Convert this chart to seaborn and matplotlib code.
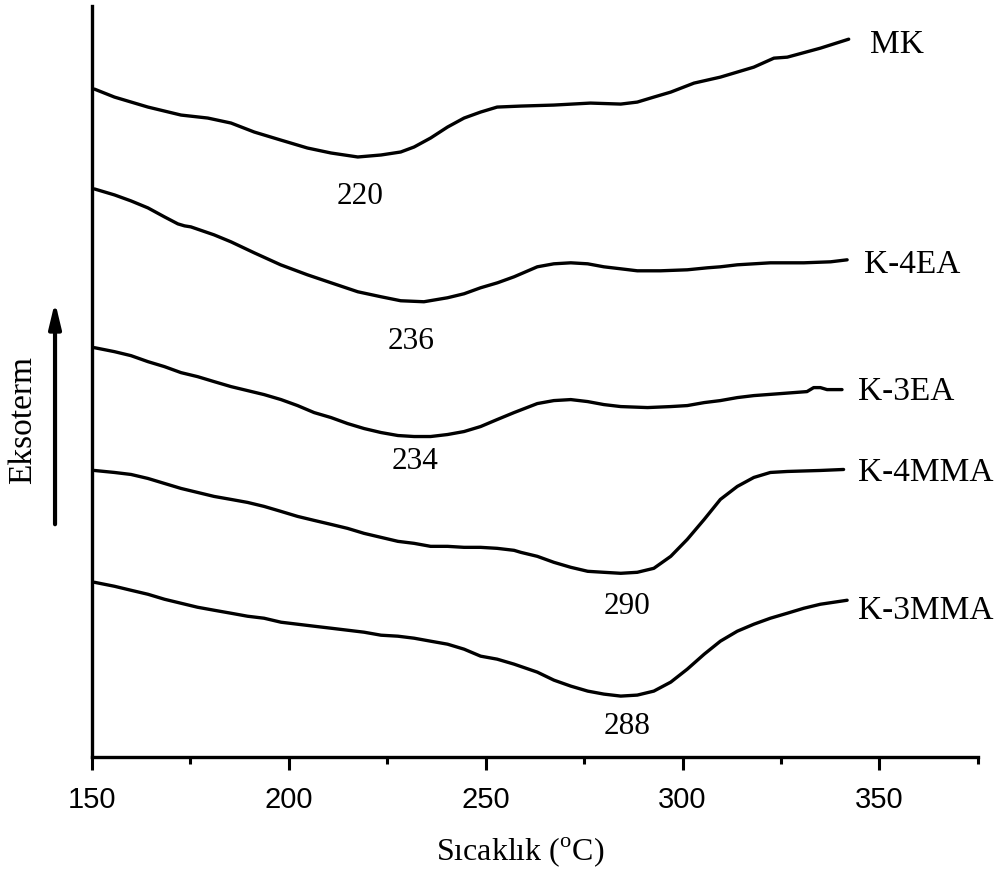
import pandas as pd
import matplotlib.pyplot as plt
import seaborn as sns

# === DSC curves (x: temperature in C, y: relative heat flow, arbitrary units) ===
mk_x = [150.6, 155.7, 164.2, 172.6, 179.4, 185.3, 191.2, 197.9, 204.7, 210.7, 217.5, 223.4,
        228.4, 231.8, 236.0, 240.3, 244.5, 248.7, 252.9, 258.9, 267.3, 276.6, 284.3, 288.5,
        292.7, 297.0, 302.9, 309.6, 318.1, 321.5, 323.2, 326.6, 335.0, 342.2]
mk_y = [669, 661, 651, 643, 640, 635, 626, 618, 610, 605, 601, 603,
        606, 611, 620, 631, 640, 646, 651, 652, 653, 655, 654, 656,
        661, 666, 675, 681, 691, 697, 700, 701, 710, 719]

k4ea_x = [150.6, 155.7, 159.9, 164.2, 168.4, 171.8, 173.5, 175.1, 181.0, 185.3, 191.2, 197.9,
          204.7, 210.7, 217.5, 223.4, 228.4, 234.3, 240.3, 244.5, 248.7, 253.0, 257.2,
          263.1, 267.3, 271.6, 275.9, 280.0, 284.3, 288.5, 294.4, 301.2, 306.3, 309.6,
          313.9, 322.3, 330.8, 337.6, 341.8]
k4ea_y = [569, 563, 557, 550, 541, 534, 532, 531, 523, 516, 505, 493,
          483, 475, 466, 461, 457, 456, 460, 464, 470, 475, 481,
          491, 494, 495, 494, 491, 489, 487, 487, 488, 490, 491,
          493, 495, 495, 496, 498]

k3ea_x = [150.6, 155.7, 159.9, 164.2, 168.4, 172.6, 176.8, 181.0, 185.3, 189.5, 193.7, 198.0,
          202.2, 206.4, 210.7, 214.9, 219.1, 223.4, 227.7, 231.8, 236.0, 240.3, 244.5, 248.7,
          252.9, 257.2, 263.1, 267.3, 271.6, 275.9, 280.0, 284.3, 291.1, 297.0, 301.2, 305.5,
          309.6, 313.9, 318.1, 324.9, 331.6, 333.3, 335.0, 336.7, 340.5]
k3ea_y = [410, 406, 402, 396, 391, 385, 381, 376, 371, 367, 363, 358,
          352, 345, 340, 334, 329, 325, 322, 321, 321, 323, 326, 331,
          338, 345, 354, 357, 358, 356, 353, 351, 350, 351, 352, 355,
          357, 360, 362, 364, 366, 370, 370, 368, 368]

k4mma_x = [150.6, 155.7, 159.9, 164.2, 168.4, 172.6, 176.8, 181.0, 185.3, 189.5, 193.7, 198.0,
           202.2, 206.4, 210.7, 214.9, 219.1, 223.4, 227.7, 231.8, 236.0, 240.3, 244.5, 248.7,
           252.9, 257.2, 258.9, 263.1, 267.3, 271.6, 275.9, 280.0, 284.3, 288.5, 292.7, 297.0,
           301.2, 305.5, 309.6, 313.9, 318.1, 322.3, 326.6, 335.0, 340.9]
k4mma_y = [287, 285, 283, 279, 274, 269, 265, 261, 258, 255, 251, 246,
           241, 237, 233, 229, 224, 220, 216, 214, 211, 211, 210, 210,
           209, 207, 205, 201, 195, 190, 186, 185, 184, 185, 189, 201,
           218, 238, 258, 271, 280, 285, 286, 287, 288]

k3mma_x = [150.6, 155.7, 159.9, 164.2, 168.4, 172.6, 176.8, 181.0, 185.3, 189.5, 193.7, 198.0,
           202.2, 206.4, 210.7, 214.9, 219.1, 223.4, 227.7, 231.8, 236.0, 240.3, 244.5, 248.7,
           252.9, 257.2, 263.1, 267.3, 271.6, 275.9, 280.0, 284.3, 288.5, 292.7, 297.0, 301.2,
           305.5, 309.6, 313.9, 318.1, 322.3, 326.6, 330.8, 335.0, 341.8]
k3mma_y = [175, 171, 167, 163, 158, 154, 150, 147, 144, 141, 139, 135,
           133, 131, 129, 127, 125, 122, 121, 119, 116, 113, 108, 101,
           98, 93, 85, 77, 71, 66, 63, 61, 62, 66, 75, 88,
           103, 116, 126, 133, 139, 144, 149, 153, 157]

sample_names = ["MK", "K-4EA", "K-3EA", "K-4MMA", "K-3MMA"]
peak_temps = ["220", "236", "234", "290", "288"]

curves = [(mk_x, mk_y), (k4ea_x, k4ea_y), (k3ea_x, k3ea_y), (k4mma_x, k4mma_y), (k3mma_x, k3mma_y)]
df = pd.concat(
    [pd.DataFrame({"T": x, "q": y, "sample": n}) for n, (x, y) in zip(sample_names, curves)],
    ignore_index=True,
)

# label positions (data coords)
name_pos = [(347.5, 713), (346, 493), (344.5, 366), (344.5, 285), (344.5, 146)]
peak_pos = [(218, 561), (231, 416), (232, 296), (286, 151), (286, 31)]

# === Plot ===
sns.set_style("ticks", {"axes.edgecolor": "black", "xtick.color": "black",
                        "ytick.color": "black", "text.color": "black",
                        "axes.labelcolor": "black"})
plt.rcParams["font.family"] = ["Liberation Serif", "DejaVu Serif"]
plt.rcParams["mathtext.fontset"] = "custom"
plt.rcParams["mathtext.rm"] = "Liberation Serif"

fig = plt.figure(figsize=(10.06, 8.91), dpi=100)
ax = fig.add_axes([0.0915, 0.1504, 0.8805, 0.8426])

sns.lineplot(data=df, x="T", y="q", units="sample", estimator=None, sort=False,
             color="black", linewidth=2.4, ax=ax)

for name, (tx, ty) in zip(sample_names, name_pos):
    ax.text(tx, ty, name, fontsize=24, ha="left", va="center")
for pk, (tx, ty) in zip(peak_temps, peak_pos):
    ax.text(tx, ty, pk, fontsize=22.5, ha="center", va="center")

ax.set_xlim(150, 375)
ax.set_ylim(0, 752)
ax.set_xticks([150, 200, 250, 300, 350])
ax.set_xticks([175, 225, 275, 325, 375], minor=True)
ax.set_yticks([])
ax.set_xlabel("")
ax.set_ylabel("")
ax.tick_params(axis="x", which="major", length=9, width=2.2, direction="out",
               labelsize=21, pad=12)
ax.tick_params(axis="x", which="minor", length=5, width=2.2, direction="out")
for lbl in ax.get_xticklabels():
    lbl.set_family(["Liberation Sans", "DejaVu Sans"])

sns.despine(ax=ax, top=True, right=True)
ax.spines["left"].set_linewidth(2.4)
ax.spines["bottom"].set_linewidth(2.4)

fig.text(0.517, 0.025, r"Sıcaklık ($^{\rm o}$C)", fontsize=23, ha="center", va="bottom")
fig.text(0.023, 0.5286, "Eksoterm", fontsize=24, rotation=90, ha="center", va="center")
ax.annotate("", xy=(0.0547, 0.6644), xytext=(0.0547, 0.4085),
            xycoords="figure fraction", textcoords="figure fraction",
            arrowprops=dict(arrowstyle="-|>,head_length=1.5,head_width=0.36",
                            color="black", lw=3))

plt.savefig("out.png", dpi=100)
plt.close()
